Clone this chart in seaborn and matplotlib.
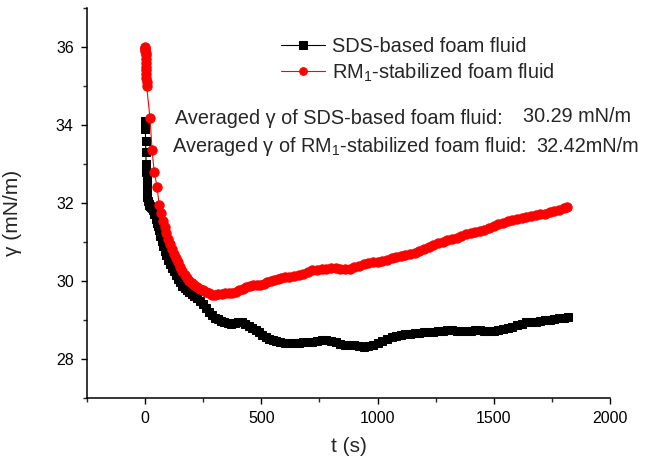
import matplotlib
matplotlib.use("Agg")
import matplotlib.pyplot as plt
import seaborn as sns
import pandas as pd
from matplotlib.ticker import MultipleLocator

# ---- data ----
t_sds = [0, 1, 2, 3, 4, 5, 6, 7, 8, 10, 12, 15, 18, 22, 26, 30, 35, 40, 45, 50, 55,
         60, 66, 72, 78, 85, 92, 100, 108, 116, 124, 132, 140, 150, 160, 170, 180,
         190, 200, 212, 224, 237, 250, 262, 275, 288, 300, 312, 325, 340, 355, 370,
         385, 400, 415, 430, 445, 460, 475, 490, 505, 520, 535, 550, 565, 580, 600,
         620, 640, 660, 680, 700, 720, 740, 760, 780, 800, 820, 840, 860, 880, 900,
         920, 940, 960, 980, 1000, 1020, 1040, 1060, 1080, 1100, 1120, 1140, 1160,
         1180, 1200, 1220, 1240, 1260, 1280, 1300, 1320, 1340, 1360, 1380, 1400,
         1420, 1440, 1460, 1480, 1500, 1520, 1540, 1560, 1580, 1600, 1620, 1640,
         1660, 1680, 1700, 1720, 1740, 1760, 1780, 1800, 1820]
g_sds = [34.1, 33.9, 33.6, 33.3, 33.0, 32.8, 32.6, 32.45, 32.3, 32.15, 32.05, 31.98,
         31.95, 31.92, 31.9, 31.87, 31.82, 31.72, 31.6, 31.5, 31.4, 31.3, 31.15,
         31.02, 30.9, 30.78, 30.66, 30.55, 30.44, 30.34, 30.25, 30.15, 30.06, 29.97,
         29.88, 29.82, 29.77, 29.72, 29.67, 29.62, 29.56, 29.5, 29.4, 29.3, 29.2,
         29.12, 29.06, 29.02, 28.98, 28.94, 28.92, 28.9, 28.92, 28.95, 28.94, 28.9,
         28.85, 28.8, 28.74, 28.68, 28.62, 28.57, 28.52, 28.49, 28.46, 28.44, 28.42,
         28.41, 28.41, 28.42, 28.43, 28.44, 28.44, 28.47, 28.49, 28.5, 28.47, 28.43,
         28.39, 28.37, 28.36, 28.35, 28.34, 28.32, 28.33, 28.36, 28.4, 28.45, 28.52,
         28.57, 28.6, 28.62, 28.63, 28.65, 28.67, 28.67, 28.68, 28.69, 28.7, 28.71,
         28.72, 28.74, 28.74, 28.73, 28.72, 28.72, 28.73, 28.74, 28.74, 28.73, 28.72,
         28.72, 28.74, 28.76, 28.79, 28.83, 28.87, 28.91, 28.94, 28.95, 28.95, 28.97,
         29.0, 28.99, 29.02, 29.04, 29.06, 29.08]

t_rm = [0, 0.5, 1, 1.5, 2, 2.5, 3, 3.5, 4, 4.5, 5, 5.5, 6, 6.5, 21, 30, 39, 52, 60,
        68, 76, 84, 92, 100, 108, 116, 124, 132, 140, 150, 160, 170, 180, 190, 200,
        212, 224, 237, 250, 262, 275, 288, 300, 315, 330, 345, 360, 375, 390, 405,
        420, 435, 450, 465, 480, 495, 510, 525, 540, 555, 570, 585, 600, 620, 640,
        660, 680, 700, 720, 740, 760, 780, 800, 820, 840, 860, 880, 900, 920, 940,
        960, 980, 1000, 1020, 1040, 1060, 1080, 1100, 1120, 1140, 1160, 1180, 1200,
        1220, 1240, 1260, 1280, 1300, 1320, 1340, 1360, 1380, 1400, 1420, 1440,
        1460, 1480, 1500, 1520, 1540, 1560, 1580, 1600, 1620, 1640, 1660, 1680,
        1700, 1720, 1740, 1760, 1780, 1800, 1815]
g_rm = [36.0, 35.98, 35.95, 35.9, 35.85, 35.8, 35.7, 35.6, 35.5, 35.4, 35.3, 35.2,
        35.1, 35.0, 34.18, 33.36, 32.8, 32.4, 31.95, 31.75, 31.55, 31.38, 31.22,
        31.08, 30.95, 30.83, 30.7, 30.58, 30.48, 30.36, 30.25, 30.16, 30.08, 30.01,
        29.95, 29.89, 29.84, 29.8, 29.76, 29.72, 29.68, 29.65, 29.64, 29.66, 29.67,
        29.68, 29.68, 29.69, 29.72, 29.76, 29.8, 29.84, 29.87, 29.9, 29.91, 29.9,
        29.93, 29.97, 30.0, 30.03, 30.06, 30.08, 30.09, 30.1, 30.13, 30.16, 30.19,
        30.23, 30.27, 30.28, 30.3, 30.32, 30.33, 30.33, 30.31, 30.3, 30.32, 30.35,
        30.39, 30.43, 30.46, 30.48, 30.5, 30.51, 30.53, 30.58, 30.62, 30.65, 30.67,
        30.69, 30.72, 30.76, 30.81, 30.86, 30.92, 30.97, 31.01, 31.04, 31.07, 31.1,
        31.15, 31.2, 31.23, 31.26, 31.29, 31.32, 31.36, 31.41, 31.46, 31.5, 31.54,
        31.57, 31.59, 31.62, 31.65, 31.67, 31.69, 31.71, 31.73, 31.76, 31.79, 31.83,
        31.88, 31.9]

labels = ["SDS-based foam fluid", "RM$_1$-stabilized foam fluid"]
x_ticks = [0, 500, 1000, 1500, 2000]
y_ticks = [28, 30, 32, 34, 36]

sns.set_style("ticks")
plt.rcParams["font.family"] = ["Liberation Sans", "DejaVu Sans"]
plt.rcParams["mathtext.default"] = "regular"

fig = plt.figure(figsize=(6.47, 4.68), dpi=100)
ax = fig.add_axes([87/647, 1-398/468, (610-87)/647, (398-8)/468])

df_sds = pd.DataFrame({"t": t_sds, "g": g_sds})
df_rm = pd.DataFrame({"t": t_rm, "g": g_rm})
sns.lineplot(data=df_sds, x="t", y="g", ax=ax, color="black", marker="s",
             markersize=5.9, markeredgecolor="black", linewidth=0.8,
             estimator=None, label=labels[0])
sns.lineplot(data=df_rm, x="t", y="g", ax=ax, color="#ff0000", marker="o",
             markersize=6.7, markeredgecolor="#ff0000", linewidth=0.8,
             estimator=None, label=labels[1])

ax.set_xlim(-250, 2000)
ax.set_ylim(27, 37)
ax.set_xticks(x_ticks)
ax.set_yticks(y_ticks)
ax.xaxis.set_minor_locator(MultipleLocator(250))
ax.yaxis.set_minor_locator(MultipleLocator(1))
ax.tick_params(which="major", direction="out", length=4.5, width=1.0,
               labelsize=11.5, colors="black", pad=5)
ax.tick_params(which="minor", direction="out", length=3, width=1.0)
for s in ["top", "right"]:
    ax.spines[s].set_visible(False)
for s in ["left", "bottom"]:
    ax.spines[s].set_linewidth(1.1)
    ax.spines[s].set_color("black")

ax.set_xlabel("t (s)", fontsize=15, labelpad=8)
ax.set_ylabel("γ (mN/m)", fontsize=15, labelpad=16)
ax.yaxis.set_label_coords(-0.125, 0.475)

leg = ax.legend(loc="upper left", bbox_to_anchor=((281-87)/523, (398-37)/390),
                frameon=False, fontsize=14.4, handlelength=2.2, handletextpad=0.35,
                labelspacing=0.27, borderaxespad=0, borderpad=0)
for h in leg.legend_handles:
    h.set_markersize(5.5)

fs = 14.3
fig.text(175/647, 1-124/468, "Averaged γ of SDS-based foam fluid:", fontsize=fs,
         va="baseline", ha="left")
fig.text(523/647, 1-122/468, "30.29 mN/m", fontsize=fs, va="baseline", ha="left")
fig.text(172/647, 1-152/468, "Averaged γ of RM$_1$-stabilized foam fluid:",
         fontsize=fs, va="baseline", ha="left")
fig.text(536/647, 1-152/468, "32.42mN/m", fontsize=fs, va="baseline", ha="left")

fig.savefig("out.png", dpi=100)
